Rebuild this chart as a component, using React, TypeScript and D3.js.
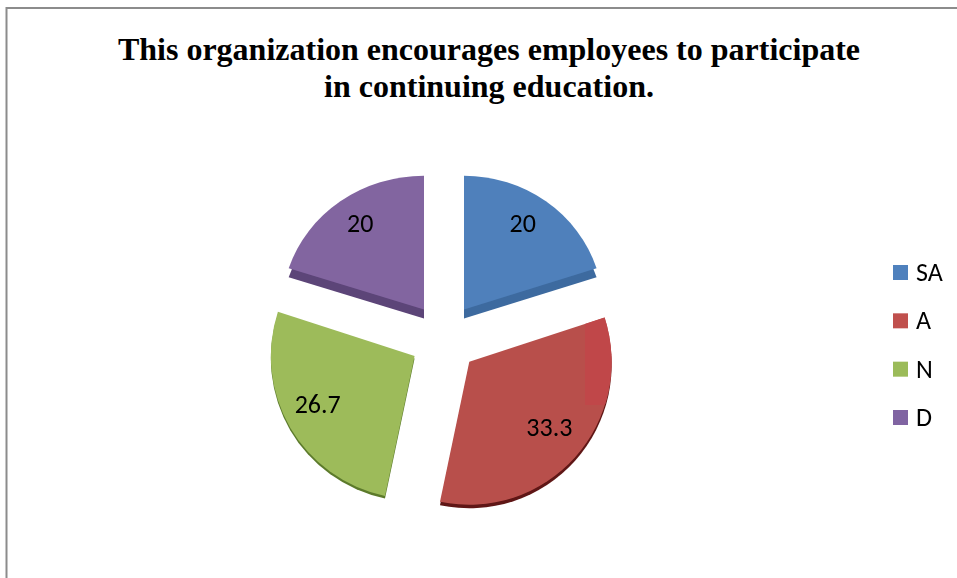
import React from "react";
import * as d3 from "d3";

const categories = ["SA", "A", "N", "D"];
const values = [20, 33.3, 26.7, 20];
const valueLabels = ["20", "33.3", "26.7", "20"];
const topColors = ["#4f80bb", "#b8504c", "#9dbb5a", "#8265a0"];
const sideColors = ["#3e6a9f", "#5e1614", "#5b7a2c", "#5c4478"];
const legendColors = ["#4f81bd", "#c0504d", "#9bbb59", "#8064a2"];
const titleLines = [
  "This organization encourages employees to participate",
  "in continuing education.",
];

const WIDTH = 957;
const HEIGHT = 578;
const CX = 444;
const CY = 337;
const EXPLODE = 34;
const RADIUS = 143;
const SANS = "Carlito, Lato, 'Open Sans', sans-serif";
const LABEL_NUDGE = [[-3, -1], [2, -4], [-6, -4], [-2, -1]];
const SLICE_SCALE_X = [0.975, 0.995, 1.005, 0.995];
const SLICE_SCALE_Y = [0.935, 1.0, 1.0, 0.935];
const SLICE_DEPTH = [9, 3.5, 2.5, 9];

export default function App() {
  const pie = d3.pie<number>().sort(null).value((d) => d);
  const arcs = pie(values);
  const arc = d3.arc<d3.PieArcDatum<number>>().innerRadius(0).outerRadius(RADIUS);
  const labelArc = d3.arc<d3.PieArcDatum<number>>().innerRadius(105).outerRadius(105);
  const legendY = d3.scalePoint<string>().domain(categories).range([272.5, 417.5]);

  const slices = arcs.map((a, i) => {
    const mid = (a.startAngle + a.endAngle) / 2;
    const isTop = Math.cos(mid) > 0;
    const x = CX + EXPLODE * Math.sin(mid);
    const y = CY - EXPLODE * Math.cos(mid) + (isTop ? 0 : 2);
    const path = arc(a) as string;
    const [lx, ly] = labelArc.centroid(a);
    return {
      i, x, y, path, lx, ly,
      sx: SLICE_SCALE_X[i],
      sy: SLICE_SCALE_Y[i],
      depth: SLICE_DEPTH[i],
    };
  });
  const red = slices[1];

  return (
    <svg
      width={WIDTH}
      height={HEIGHT}
      viewBox={`0 0 ${WIDTH} ${HEIGHT}`}
      style={{ position: "fixed", left: 0, top: 0, background: "#fff" }}
    >
      <defs>
        <clipPath id="redHighlight">
          <rect x={585} y={300} width={40} height={105} />
        </clipPath>
        <filter id="soft" x="-5%" y="-5%" width="110%" height="110%">
          <feGaussianBlur stdDeviation="0.5" />
        </filter>
      </defs>

      <path d={`M6.5 578V8H${WIDTH}`} fill="none" stroke="#8c8c8c" strokeWidth={2} />

      {titleLines.map((t, i) => (
        <text
          key={t}
          x={489}
          y={60 + i * 37}
          textAnchor="middle"
          fontFamily="'Liberation Serif', 'Times New Roman', serif"
          fontWeight="bold"
          fontSize={32}
          fill="#000"
        >
          {t}
        </text>
      ))}

      <g filter="url(#soft)">
        {slices.map((s) => (
          <g key={s.i}>
            <path
              d={s.path}
              fill={sideColors[s.i]}
              transform={`translate(${s.x},${s.y + s.depth}) scale(${s.sx},${s.sy})`}
            />
            <path
              d={s.path}
              fill={topColors[s.i]}
              transform={`translate(${s.x},${s.y}) scale(${s.sx},${s.sy})`}
            />
          </g>
        ))}
        <g clipPath="url(#redHighlight)">
          <path
            d={red.path}
            fill="#c0474a"
            transform={`translate(${red.x},${red.y}) scale(${red.sx},${red.sy})`}
          />
        </g>
      </g>

      {slices.map((s) => (
        <text
          key={s.i}
          x={s.x + s.lx + LABEL_NUDGE[s.i][0]}
          y={s.y + s.ly + 8 + LABEL_NUDGE[s.i][1]}
          textAnchor="middle"
          fontFamily={SANS}
          fontSize={26}
          fill="#000"
        >
          {valueLabels[s.i]}
        </text>
      ))}

      {categories.map((c, i) => (
        <g key={c}>
          <rect
            x={893}
            y={(legendY(c) as number) - 7.5}
            width={15}
            height={15}
            fill={legendColors[i]}
          />
          <text
            x={916}
            y={(legendY(c) as number) + 8.5}
            fontFamily={SANS}
            fontSize={26}
            fill="#000"
          >
            {c}
          </text>
        </g>
      ))}
    </svg>
  );
}
